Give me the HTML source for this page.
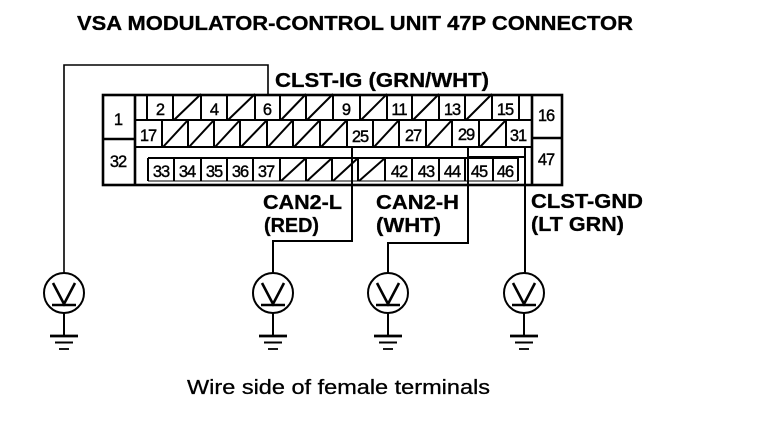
<!DOCTYPE html>
<html><head><meta charset="utf-8"><style>
html,body{margin:0;padding:0;background:#fff;width:768px;height:432px;overflow:hidden}
svg{display:block}
text{font-family:"Liberation Sans",sans-serif;fill:#000}
.b{font-weight:bold;font-size:20px;stroke:#000;stroke-width:.3px}
.n{font-size:16.5px;text-anchor:middle;stroke:#000;stroke-width:.4px;letter-spacing:-1px}
</style></head><body>
<svg width="768" height="432" viewBox="0 0 768 432" xmlns="http://www.w3.org/2000/svg">
<text class="b" x="77" y="30" textLength="556" lengthAdjust="spacingAndGlyphs">VSA MODULATOR-CONTROL UNIT 47P CONNECTOR</text>
<text class="b" x="275" y="87" textLength="214" lengthAdjust="spacingAndGlyphs">CLST-IG (GRN/WHT)</text>
<text class="b" x="263" y="209" textLength="79" lengthAdjust="spacingAndGlyphs">CAN2-L</text>
<text class="b" x="264" y="232" textLength="55" lengthAdjust="spacingAndGlyphs">(RED)</text>
<text class="b" x="376" y="209" textLength="83" lengthAdjust="spacingAndGlyphs">CAN2-H</text>
<text class="b" x="376" y="232" textLength="65" lengthAdjust="spacingAndGlyphs">(WHT)</text>
<text class="b" x="531" y="208" textLength="112" lengthAdjust="spacingAndGlyphs">CLST-GND</text>
<text class="b" x="531" y="231" textLength="93" lengthAdjust="spacingAndGlyphs">(LT GRN)</text>
<text x="187" y="394" font-size="20" stroke="#000" stroke-width=".3" textLength="303" lengthAdjust="spacingAndGlyphs">Wire side of female terminals</text>

<g fill="none" stroke="#000" stroke-width="2">
<path d="M268 94V65H64V273" stroke-width="1.6"/>
<path d="M352 147V241H273V273"/>
<path d="M468 147V243H388V273"/>
<path d="M525 147V273"/>
<path d="M147 94V120M173 94V120M201 94V120M227 94V120M255 94V120M280 94V120M306 94V120M333 94V120M360 94V120M387 94V120M412 94V120M439 94V120M465 94V120M492 94V120M519 94V120"/>
<path d="M135 120H531M135 147H531"/>
<path d="M162 120V147M188 120V147M214 120V147M240 120V147M267 120V147M293 120V147M320 120V147M347 120V147M373 120V147M399 120V147M426 120V147M452 120V147M479 120V147M506 120V147"/>
<path d="M148 158H518"/>
<path d="M468 157H525"/>
<path d="M148 158V181M174 158V181M201 158V181M227 158V181M253 158V181M280 158V181M306 158V181M332 158V181M358 158V181M385 158V181M412 158V181M439 158V181M465 158V181M493 158V181M518 158V181"/>
<path d="M148 181H518" stroke-width="1"/>
<path d="M174 120L201 94M228 120L255 94M281 120L306 94M307 120L333 94M361 120L387 94M413 120L439 94M466 120L492 94"/>
<path d="M163 147L188 120M189 147L214 120M215 147L240 120M241 147L267 120M268 147L293 120M294 147L320 120M321 147L347 120M374 147L399 120M427 147L452 120M480 147L506 120"/>
<path d="M281 181L306 158M307 181L332 158M333 181L358 158M359 181L385 158"/>
</g>
<g fill="none" stroke="#000" stroke-width="2.6">
<rect x="103" y="95" width="459" height="90"/>
<path d="M135 95V185M532 95V185"/>
<path d="M103 139H135M532 138H562"/>
</g>

<g>
<text class="n" x="160" y="115">2</text><text class="n" x="214" y="115">4</text><text class="n" x="267" y="115">6</text><text class="n" x="346" y="115">9</text><text class="n" x="399" y="115">11</text><text class="n" x="452" y="115">13</text><text class="n" x="505" y="115">15</text>
<text class="n" x="118" y="125">1</text><text class="n" x="118" y="167">32</text><text class="n" x="546" y="121">16</text><text class="n" x="546" y="165">47</text>
<text class="n" x="148" y="141">17</text><text class="n" x="360" y="142">25</text><text class="n" x="413" y="141">27</text><text class="n" x="466" y="140">29</text><text class="n" x="518" y="141">31</text>
<text class="n" x="161" y="177">33</text><text class="n" x="187" y="177">34</text><text class="n" x="214" y="177">35</text><text class="n" x="240" y="177">36</text><text class="n" x="266" y="177">37</text>
<text class="n" x="399" y="177">42</text><text class="n" x="426" y="177">43</text><text class="n" x="452" y="177">44</text><text class="n" x="479" y="177">45</text><text class="n" x="505" y="177">46</text>
</g>

<g fill="none" stroke="#000" stroke-width="2">
<g transform="translate(64,0)"><circle cx="0" cy="293" r="20"/><path d="M-11 283L0 304L11 283" stroke-width="2.6"/><path d="M-12 305H12" stroke-width="2.6"/><path d="M0 313V336"/><path d="M-14 336H14" stroke-width="2.8"/><path d="M-9 342.500H9" stroke-width="2"/><path d="M-5 349H5" stroke-width="1.8"/></g>
<g transform="translate(273,0)"><circle cx="0" cy="293" r="20"/><path d="M-11 283L0 304L11 283" stroke-width="2.6"/><path d="M-12 305H12" stroke-width="2.6"/><path d="M0 313V336"/><path d="M-14 336H14" stroke-width="2.8"/><path d="M-9 342.500H9" stroke-width="2"/><path d="M-5 349H5" stroke-width="1.8"/></g>
<g transform="translate(388,0)"><circle cx="0" cy="293" r="20"/><path d="M-11 283L0 304L11 283" stroke-width="2.6"/><path d="M-12 305H12" stroke-width="2.6"/><path d="M0 313V336"/><path d="M-14 336H14" stroke-width="2.8"/><path d="M-9 342.500H9" stroke-width="2"/><path d="M-5 349H5" stroke-width="1.8"/></g>
<g transform="translate(524,0)"><circle cx="0" cy="293" r="20"/><path d="M-11 283L0 304L11 283" stroke-width="2.6"/><path d="M-12 305H12" stroke-width="2.6"/><path d="M0 313V336"/><path d="M-14 336H14" stroke-width="2.8"/><path d="M-9 342.500H9" stroke-width="2"/><path d="M-5 349H5" stroke-width="1.8"/></g>
</g>
</svg>
</body></html>
